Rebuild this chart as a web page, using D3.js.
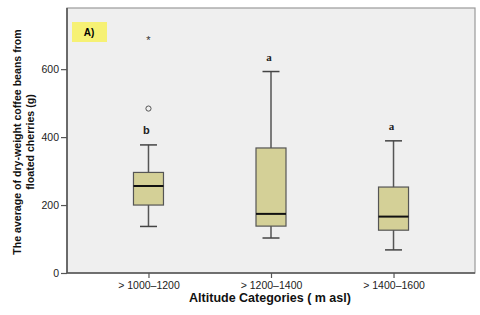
<!DOCTYPE html>
<html>
<head>
<meta charset="utf-8">
<script src="https://cdn.jsdelivr.net/npm/d3@7"></script>
<style>
  body { margin: 0; background: #fff; }
</style>
</head>
<body>
<script>
// data
let categories = ['> 1000\u20131200', '> 1200\u20131400', '> 1400\u20131600'];
let whiskerLow = [137, 103, 68];
let q1 = [200, 138, 126];
let median = [256, 174, 166];
let q3 = [296, 368, 253];
let whiskerHigh = [377, 593, 389];
let outlierValues = [484];      // circle, first group
let extremeValues = [693];      // star, first group
let letters = ['b', 'a', 'a'];
let yTicks = [0, 200, 400, 600];

let width = 480, height = 315;
let plotLeft = 67, plotRight = 475, plotTop = 8, plotBottom = 273;

let svg = d3.select('body').append('svg').attr('width', width).attr('height', height);

let x = d3.scalePoint().domain(categories).range([plotLeft, plotRight]).padding(0.665);
let y = d3.scaleLinear().domain([0, 780]).range([plotBottom, plotTop]);

// plot area
svg.append('rect')
    .attr('x', plotLeft).attr('y', plotTop)
    .attr('width', plotRight - plotLeft).attr('height', plotBottom - plotTop)
    .attr('fill', '#efefef')
    .attr('stroke', '#9a9a9a')
    .attr('stroke-width', 1.2);

// label box
svg.append('rect')
    .attr('x', 72).attr('y', 22).attr('width', 35).attr('height', 20)
    .attr('fill', '#f6f174');
svg.append('text')
    .attr('x', 89).attr('y', 36)
    .attr('text-anchor', 'middle')
    .attr('font-family', 'Liberation Sans')
    .attr('font-size', '10px')
    .attr('font-weight', 'bold')
    .text('A)');

// axes
let yAxis = d3.axisLeft(y).tickValues(yTicks).tickSize(6).tickPadding(2);
let yAxisGroup = svg.append('g').attr('transform', `translate(${plotLeft},0)`).call(yAxis);
let xAxis = d3.axisBottom(x).tickSize(5).tickPadding(4);
let xAxisGroup = svg.append('g').attr('transform', `translate(0,${plotBottom})`).call(xAxis);

[yAxisGroup, xAxisGroup].forEach(g => {
    g.select('.domain').attr('stroke', '#555').attr('stroke-width', 1.6);
    g.selectAll('.tick line').attr('stroke', '#555').attr('stroke-width', 1.2);
    g.selectAll('.tick text')
        .attr('font-family', 'Liberation Sans')
        .attr('font-size', '10.5px')
        .attr('fill', '#222');
});
xAxisGroup.select('.domain').attr('d', `M${plotLeft},0H${plotRight}`);
yAxisGroup.select('.domain').attr('d', `M0,${plotBottom}V${plotTop}`);

// boxes
let boxWidth = 30, capWidth = 17;
let groups = svg.selectAll('g.box').data(categories).enter().append('g').attr('class', 'box');

groups.append('line')
    .attr('x1', c => x(c)).attr('x2', c => x(c))
    .attr('y1', (c, i) => y(whiskerLow[i])).attr('y2', (c, i) => y(whiskerHigh[i]))
    .attr('stroke', '#555').attr('stroke-width', 1.5);

groups.append('line')
    .attr('x1', c => x(c) - capWidth / 2).attr('x2', c => x(c) + capWidth / 2)
    .attr('y1', (c, i) => y(whiskerHigh[i])).attr('y2', (c, i) => y(whiskerHigh[i]))
    .attr('stroke', '#444').attr('stroke-width', 1.5);

groups.append('line')
    .attr('x1', c => x(c) - capWidth / 2).attr('x2', c => x(c) + capWidth / 2)
    .attr('y1', (c, i) => y(whiskerLow[i])).attr('y2', (c, i) => y(whiskerLow[i]))
    .attr('stroke', '#444').attr('stroke-width', 1.5);

groups.append('rect')
    .attr('x', c => x(c) - boxWidth / 2)
    .attr('y', (c, i) => y(q3[i]))
    .attr('width', boxWidth)
    .attr('height', (c, i) => y(q1[i]) - y(q3[i]))
    .attr('fill', '#d4d097')
    .attr('stroke', '#555')
    .attr('stroke-width', 1.2);

groups.append('line')
    .attr('x1', c => x(c) - boxWidth / 2).attr('x2', c => x(c) + boxWidth / 2)
    .attr('y1', (c, i) => y(median[i])).attr('y2', (c, i) => y(median[i]))
    .attr('stroke', '#111').attr('stroke-width', 2);

// letters above whiskers
groups.append('text')
    .attr('x', c => x(c) - 2)
    .attr('y', (c, i) => y(whiskerHigh[i]) - 11)
    .attr('text-anchor', 'middle')
    .attr('font-family', (c, i) => letters[i] === 'b' ? 'Liberation Sans' : 'Liberation Serif')
    .attr('font-size', '11px')
    .attr('font-weight', 'bold')
    .attr('fill', '#222')
    .text((c, i) => letters[i]);

// outliers for the first group
svg.selectAll('circle.outlier').data(outlierValues).enter().append('circle')
    .attr('class', 'outlier')
    .attr('cx', x(categories[0]))
    .attr('cy', d => y(d))
    .attr('r', 2.6)
    .attr('fill', 'none')
    .attr('stroke', '#555')
    .attr('stroke-width', 1);

svg.selectAll('text.extreme').data(extremeValues).enter().append('text')
    .attr('class', 'extreme')
    .attr('x', x(categories[0]))
    .attr('y', d => y(d) + 6)
    .attr('text-anchor', 'middle')
    .attr('font-family', 'Liberation Sans')
    .attr('font-size', '11px')
    .attr('fill', '#333')
    .text('*');

// axis titles
svg.append('text')
    .attr('x', 270)
    .attr('y', 302)
    .attr('text-anchor', 'middle')
    .attr('font-family', 'Liberation Sans')
    .attr('font-size', '12.5px')
    .attr('font-weight', 'bold')
    .attr('fill', '#111')
    .text('Altitude Categories ( m asl)');

let yTitle = svg.append('text')
    .attr('transform', 'translate(21,142) rotate(-90)')
    .attr('text-anchor', 'middle')
    .attr('font-family', 'Liberation Sans')
    .attr('font-size', '10.6px')
    .attr('font-weight', 'bold')
    .attr('fill', '#111');
yTitle.append('tspan').attr('x', 0).attr('dy', 0).text('The average of dry-weight coffee beans from');
yTitle.append('tspan').attr('x', 0).attr('dy', 12.5).text('floated cherries (g)');
</script>
</body>
</html>
